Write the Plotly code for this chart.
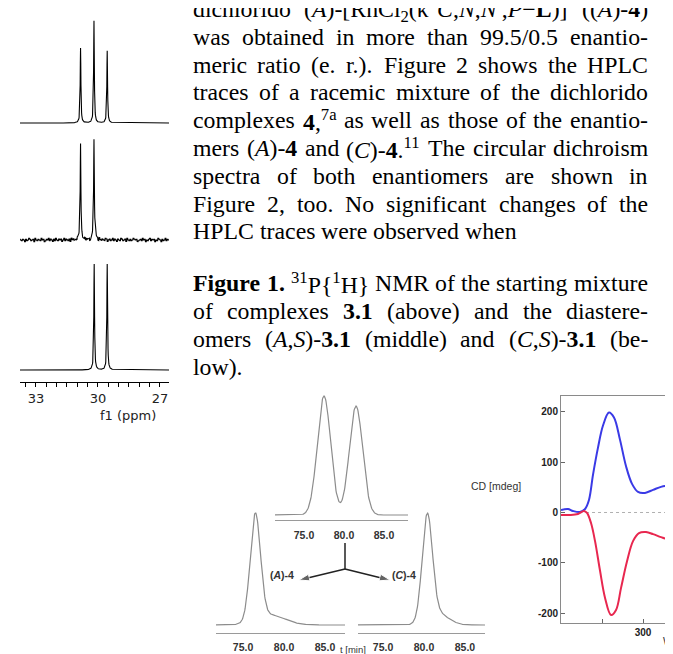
import re
import numpy as np
import plotly.graph_objects as go

W, H = 673, 654
def fx(p): return p / W
def fy(p): return 1 - p / H

# ---------------- NMR data (31P{1H}) ----------------
nmr_top_ppm = [30.84, 30.19, 29.55]
nmr_top_int = [75, 102, 72]
nmr_mid_ppm = [30.84, 30.19, 30.12]
nmr_mid_int = [98, 99, 10]
nmr_bot_ppm = [30.18, 29.55]
nmr_bot_int = [106, 106]
nmr_hwhm = 0.02
nmr_ticks = [33, 30, 27]
mid_noise = [0,1,-1,2,0,-1,1,-2,0,1,2,-1,0,-2,1,0,1,-1,2,1,-1,0,-2,1,0,2,-1,1,0,-1,
             -2,1,0,1,2,0,-1,1,-1,0,2,-2,1,0,-1,1,2,-1,0,1,-2,0,1,-1,2,0,-1,1,0,-2,
             1,2,-1,0,1,-1,0,2,-2,1,0,-1,1,0,2,-1,-2,1,0,1,-1,2,0,-1,1,-2,0,1,2,-1,
             0,-1,1,0,2,-2,1,-1,0,1,-1,2,0,-2,1,0,1,-1,0,2,-1,1,-2,0,1,-1,2,0,1,-1,
             -2,1,0,2,-1,0,1,-1,0,2,-2,1,0,-1,1,2,0,-1,1,-2,0,1,-1]

# ---------------- HPLC data ----------------
hplc_ticks = [75, 80, 85]
hplc_ticktext = ["75.0", "80.0", "85.0"]
rac_t = [77.5, 81.5]; rac_h = [119, 109]; rac_s = [0.83, 0.83]
a_t = [76.5, 78.3]; a_h = [106, 10]; a_s = [0.62, 1.8]
c_t = [80.4, 81.6]; c_h = [104, 12]; c_s = [0.62, 1.3]

# ---------------- CD data ----------------
cd_blue_nm = [200, 208.5, 214.6, 223.2, 229.3, 234.1, 239, 245.1, 251.2, 258.5, 264.6, 271.9,
              279.3, 286.6, 293.9, 302.4, 312.2, 321.9, 330.5, 339, 346.3]
cd_blue = [5, 7, 3, 1, 7, 25, 75, 129, 173, 199, 189, 145, 92, 57, 41, 39, 45, 51, 53, 51, 47]
cd_red_nm = [200, 211, 220.7, 228, 231.7, 236.6, 241.5, 247.6, 253.7, 261, 267.1, 273.2,
             280.5, 287.8, 295.1, 303.7, 312.2, 321.9, 330.5, 339, 346.3]
cd_red = [-5, -5, -3, 3, -1, -21, -57, -116, -170, -204, -194, -150, -97, -57, -41, -39,
          -43, -49, -53, -51, -49]
cd_yticks = [200, 100, 0, -100, -200]

# ---------------- text ----------------
para = [
    "dichlorido (<i>A</i>)-[RhCl<sub>2</sub>(κ<sup>4</sup><i>C</i>,<i>N</i>,<i>N</i>′,<i>P</i>−<b>L</b>)] ((<i>A</i>)-<b>4</b>)",
    "was obtained in more than 99.5/0.5 enantio-",
    "meric ratio (e. r.). Figure 2 shows the HPLC",
    "traces of a racemic mixture of the dichlorido",
    "complexes <b>4</b>,<sup>7a</sup> as well as those of the enantio-",
    "mers (<i>A</i>)-<b>4</b> and (<i>C</i>)-<b>4</b>.<sup>11</sup> The circular dichroism",
    "spectra of both enantiomers are shown in",
    "Figure 2, too. No significant changes of the",
    "HPLC traces were observed when",
]
caption = [
    "<b>Figure</b> <b>1.</b> <sup>31</sup>P{<sup>1</sup>H} NMR of the starting mixture",
    "of complexes <b>3.1</b> (above) and the diastere-",
    "omers (<i>A</i>,<i>S</i>)-<b>3.1</b> (middle) and (<i>C</i>,<i>S</i>)-<b>3.1</b> (be-",
    "low).",
]

ROMAN = dict(zip("abcdefghijklmnopqrstuvwxyz",
                 [444,500,444,500,444,333,500,500,278,278,500,278,778,500,500,500,500,333,389,278,500,500,722,500,500,444]))
ROMAN.update(zip("ABCDEFGHIJKLMNOPQRSTUVWXYZ",
                 [722,667,667,722,611,556,722,722,333,389,722,611,889,722,722,556,722,667,556,611,722,722,944,722,722,611]))
ROMAN.update({c: 500 for c in "0123456789"})
ROMAN.update({' ': 250, '.': 250, ',': 250, '-': 333, '(': 333, ')': 333, '[': 333, ']': 333,
              '/': 278, '{': 480, '}': 480, '−': 564, '′': 275, 'κ': 520, ':': 278})
BOLD = dict(ROMAN); BOLD.update({'L': 667, 'F': 611, 'u': 556, 'r': 444})
ITAL = dict(ROMAN); ITAL.update({'A': 611, 'C': 667, 'S': 500, 'N': 667, 'P': 611, 'L': 556})

def text_w(s, size):
    b = i = False; sc = 1.0; w = 0.0
    for tok in re.split(r'(<[^>]+>)', s):
        if tok.startswith('<'):
            t = tok.strip('<>/').lower(); closing = tok.startswith('</')
            if t == 'b': b = not closing
            elif t == 'i': i = not closing
            elif t in ('sup', 'sub'): sc = 1.0 if closing else 0.7
            continue
        tab = BOLD if b else (ITAL if i else ROMAN)
        w += sum(tab.get(ch, 500) for ch in tok) * sc / 1000 * size
    return w

TX0, TX1, FS = 185, 640, 23.8
annotations = []

def place_lines(lines, y0, dy, last_left_idx):
    for k, line in enumerate(lines):
        words = line.split(' ')
        ws = [text_w(wd, FS) for wd in words]
        yc = y0 + dy * k - 2
        if k in last_left_idx or len(words) == 1:
            gap = 0.25 * FS
        else:
            gap = (TX1 - TX0 - sum(ws)) / (len(words) - 1)
        x = TX0
        for wd, w in zip(words, ws):
            annotations.append(dict(x=fx(x), y=fy(yc), xref='paper', yref='paper', text=wd,
                                    showarrow=False, xanchor='left', yanchor='middle',
                                    borderpad=0, borderwidth=0,
                                    font=dict(family='Liberation Serif', size=FS, color='black')))
            x += w + gap

place_lines(para, 3.0, 27.8, {8})
place_lines(caption, 277, 27.9, {3})

# ---------------- figure ----------------
fig = go.Figure()
ppm = np.round(np.arange(26.56, 33.78, 0.01), 2)

def lorentz(x, cs, hs, w):
    out = np.zeros_like(x, dtype=float)
    for c, h in zip(cs, hs):
        out += h * w**2 / ((x - c)**2 + w**2)
    return out

noise = np.repeat(np.array(mid_noise, dtype=float) * 0.8, 5)
noise = np.resize(noise, ppm.size)

nmr_line = dict(color='black', width=1.1)
fig.add_trace(go.Scatter(x=ppm, y=lorentz(ppm, nmr_top_ppm, nmr_top_int, nmr_hwhm),
                         xaxis='x', yaxis='y', mode='lines', line=nmr_line))
fig.add_trace(go.Scatter(x=ppm, y=lorentz(ppm, nmr_mid_ppm, nmr_mid_int, nmr_hwhm) + noise,
                         xaxis='x', yaxis='y2', mode='lines', line=nmr_line))
fig.add_trace(go.Scatter(x=ppm, y=lorentz(ppm, nmr_bot_ppm, nmr_bot_int, nmr_hwhm),
                         xaxis='x', yaxis='y3', mode='lines', line=nmr_line))

t = np.arange(71.0, 88.5, 0.05)
def gauss(x, cs, hs, ss):
    out = np.zeros_like(x)
    for c, h, s in zip(cs, hs, ss):
        out += h * np.exp(-(x - c)**2 / (2 * s**2))
    return out

hp_line = dict(color='#8c8c8c', width=1.2)
fig.add_trace(go.Scatter(x=t, y=gauss(t, rac_t, rac_h, rac_s), xaxis='x2', yaxis='y4',
                         mode='lines', line=hp_line))
fig.add_trace(go.Scatter(x=t, y=gauss(t, a_t, a_h, a_s), xaxis='x3', yaxis='y5',
                         mode='lines', line=hp_line))
fig.add_trace(go.Scatter(x=t, y=gauss(t, c_t, c_h, c_s), xaxis='x4', yaxis='y6',
                         mode='lines', line=hp_line))

fig.add_trace(go.Scatter(x=[230.5, 342.7], y=[0, 0], xaxis='x5', yaxis='y7', mode='lines',
                         line=dict(color='#b0b0b0', width=1, dash='dot')))
fig.add_trace(go.Scatter(x=cd_blue_nm, y=cd_blue, xaxis='x5', yaxis='y7', mode='lines',
                         line=dict(color='#3a3ae6', width=2, shape='spline', smoothing=1.0)))
fig.add_trace(go.Scatter(x=cd_red_nm, y=cd_red, xaxis='x5', yaxis='y7', mode='lines',
                         line=dict(color='#e8274f', width=2, shape='spline', smoothing=1.0)))

# arrow diagram (pixel overlay axis)
arrow_line = dict(color='#222', width=1.5)
fig.add_trace(go.Scatter(x=[337, 337], y=[535, 561], xaxis='x6', yaxis='y8', mode='lines',
                         line=arrow_line))
for tip in ([291, 572], [382, 572]):
    fig.add_trace(go.Scatter(x=[337, tip[0]], y=[561, tip[1]], xaxis='x6', yaxis='y8',
                             mode='lines+markers', line=arrow_line,
                             marker=dict(symbol=['circle', 'arrow'], size=[0, 11], color='#222',
                                         angleref='previous')))

def ydom(base_px, lo, hi):
    return [fy(base_px - lo), fy(base_px - hi)]

hidden = dict(visible=False)
sans_b = dict(family='Liberation Sans', size=10.5, color='#333', weight='bold')

layout = dict(
    width=W, height=H, margin=dict(l=0, r=0, t=0, b=0),
    paper_bgcolor='white', plot_bgcolor='rgba(0,0,0,0)', showlegend=False,
    xaxis=dict(domain=[fx(12), fx(161)], range=[33.77, 26.56], anchor='y3',
               showline=True, linecolor='black', linewidth=1, showgrid=False, zeroline=False,
               tickvals=nmr_ticks, ticktext=[str(v) for v in nmr_ticks], ticks='outside',
               ticklen=4, tickcolor='black',
               minor=dict(dtick=0.5, tick0=27, ticks='outside', ticklen=4, tickcolor='black'),
               tickfont=dict(family='DejaVu Sans', size=13, color='#222')),
    yaxis=dict(domain=ydom(115, -12, 110), range=[-12, 110], anchor='x', **hidden),
    yaxis2=dict(domain=ydom(232, -12, 110), range=[-12, 110], anchor='x', **hidden),
    yaxis3=dict(domain=ydom(362, -12, 110), range=[-12, 110], anchor='x', **hidden),
    xaxis2=dict(domain=[fx(267), fx(400)], range=[71.375, 88.0], anchor='y4',
                showline=True, linecolor='#9a9a9a', showgrid=False, zeroline=False,
                tickvals=hplc_ticks, ticktext=hplc_ticktext, ticks='outside', ticklen=5,
                tickcolor='rgba(0,0,0,0)', tickfont=sans_b),
    yaxis4=dict(domain=ydom(507, -5, 125), range=[-5, 125], anchor='x2', **hidden),
    xaxis3=dict(domain=[fx(208), fx(337)], range=[71.7, 87.44], anchor='y5',
                showline=True, linecolor='#9a9a9a', showgrid=False, zeroline=False,
                tickvals=hplc_ticks, ticktext=hplc_ticktext, ticks='outside', ticklen=4,
                tickcolor='rgba(0,0,0,0)', tickfont=sans_b),
    yaxis5=dict(domain=ydom(617, -8, 120), range=[-8, 120], anchor='x3', **hidden),
    xaxis4=dict(domain=[fx(350), fx(477)], range=[71.95, 87.44], anchor='y6',
                showline=True, linecolor='#9a9a9a', showgrid=False, zeroline=False,
                tickvals=hplc_ticks, ticktext=hplc_ticktext, ticks='outside', ticklen=4,
                tickcolor='rgba(0,0,0,0)', tickfont=sans_b),
    yaxis6=dict(domain=ydom(617, -8, 120), range=[-8, 120], anchor='x4', **hidden),
    xaxis5=dict(domain=[fx(553), 1.0], range=[200, 346.3], anchor='y7',
                showline=True, linecolor='#8a8a8a', mirror=True, showgrid=False, zeroline=False,
                tickvals=[300], ticktext=['300'], ticks='inside', ticklen=4, tickcolor='#666',
                minor=dict(tickvals=[250], ticks='inside', ticklen=4, tickcolor='#666'),
                tickfont=dict(family='Liberation Sans', size=10, color='#222', weight='bold')),
    yaxis7=dict(domain=[fy(615), fy(388)], range=[-219.9, 231.8], anchor='x5',
                showline=True, linecolor='#8a8a8a', showgrid=False, zeroline=False,
                tickvals=cd_yticks, ticktext=[str(v) for v in cd_yticks], ticks='inside',
                ticklen=4, tickcolor='#666',
                tickfont=dict(family='Liberation Sans', size=10, color='#222', weight='bold')),
    xaxis6=dict(domain=[0, 1], range=[0, W], anchor='y8', visible=False, fixedrange=True),
    yaxis8=dict(domain=[0, 1], range=[H, 0], anchor='x6', visible=False, fixedrange=True),
)

annotations += [
    dict(x=fx(90), y=fy(407), xref='paper', yref='paper', text='f1 (ppm)', showarrow=False,
         font=dict(family='DejaVu Sans', size=13, color='#222')),
    dict(x=fx(274), y=fy(575), xref='paper', yref='paper', text='(<i>A</i>)-4', showarrow=False,
         font=sans_b),
    dict(x=fx(396), y=fy(575), xref='paper', yref='paper', text='(<i>C</i>)-4', showarrow=False,
         font=sans_b),
    dict(x=fx(345), y=fy(649), xref='paper', yref='paper', text='t [min]', showarrow=False,
         font=dict(family='Liberation Sans', size=9.5, color='#333')),
    dict(x=fx(515), y=fy(486), xref='paper', yref='paper', text='CD [mdeg]', showarrow=False,
         font=dict(family='Liberation Sans', size=10.5, color='#333')),
    dict(x=fx(653), y=fy(641), xref='paper', yref='paper', text='Wavelength [nm]', showarrow=False,
         xanchor='left', font=dict(family='Liberation Sans', size=10.5, color='#333')),
]
layout['annotations'] = annotations

fig.update_layout(**layout)
fig.write_html("out.html")
